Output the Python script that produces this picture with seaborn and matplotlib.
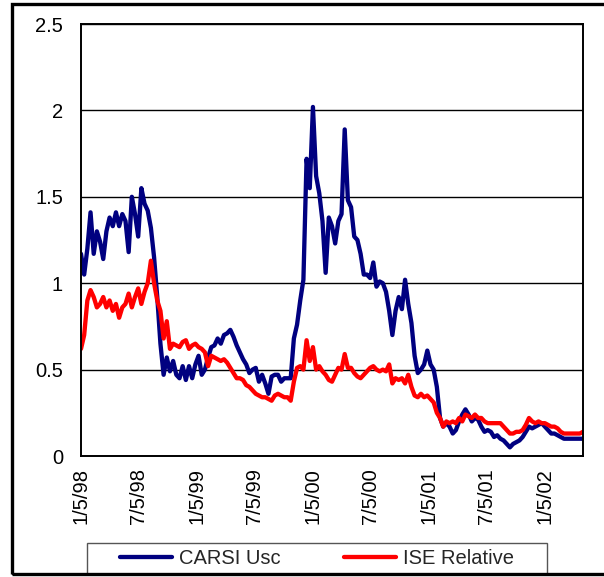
import numpy as np
import pandas as pd
import matplotlib
matplotlib.use("Agg")
import matplotlib.pyplot as plt
import matplotlib.patches as mpatches
import seaborn as sns

# values, one sample every 10 days from 1/5/98
start_date = "1998-01-05"
step_days = 10

carsi_usc = [
    1.17, 1.05, 1.20, 1.41, 1.17, 1.30, 1.24, 1.14, 1.30, 1.38,
    1.33, 1.41, 1.33, 1.40, 1.36, 1.18, 1.50, 1.40, 1.27, 1.55,
    1.46, 1.42, 1.32, 1.15, 0.92, 0.65, 0.47, 0.57, 0.49, 0.55,
    0.47, 0.45, 0.52, 0.44, 0.52, 0.45, 0.53, 0.58, 0.47, 0.50,
    0.57, 0.63, 0.64, 0.68, 0.65, 0.70, 0.71, 0.73, 0.69, 0.64,
    0.60, 0.56, 0.53, 0.48, 0.50, 0.51, 0.43, 0.47, 0.42, 0.36,
    0.46, 0.47, 0.47, 0.43, 0.45, 0.45, 0.45, 0.68, 0.76, 0.90,
    1.02, 1.72, 1.55, 2.02, 1.62, 1.52, 1.36, 1.06, 1.38, 1.33,
    1.23, 1.36, 1.40, 1.89, 1.48, 1.44, 1.27, 1.25, 1.17, 1.05,
    1.05, 1.03, 1.12, 0.98, 1.01, 1.00, 0.95, 0.84, 0.70, 0.84,
    0.92, 0.85, 1.02, 0.88, 0.77, 0.58, 0.48, 0.50, 0.53, 0.61,
    0.53, 0.50, 0.40, 0.22, 0.17, 0.19, 0.17, 0.13, 0.15, 0.20,
    0.24, 0.27, 0.24, 0.20, 0.22, 0.21, 0.17, 0.14, 0.15, 0.14,
    0.11, 0.12, 0.10, 0.09, 0.07, 0.05, 0.07, 0.08, 0.09, 0.11,
    0.14, 0.17, 0.16, 0.17, 0.18, 0.19, 0.17, 0.15, 0.13, 0.13,
    0.12, 0.11, 0.10, 0.10, 0.10, 0.10, 0.10, 0.10, 0.10,
]

ise_relative = [
    0.62, 0.70, 0.90, 0.96, 0.92, 0.86, 0.88, 0.92, 0.86, 0.90,
    0.84, 0.88, 0.80, 0.86, 0.88, 0.94, 0.86, 0.92, 0.97, 0.88,
    0.95, 1.00, 1.13, 1.00, 0.90, 0.84, 0.68, 0.78, 0.62, 0.65,
    0.64, 0.63, 0.66, 0.67, 0.62, 0.64, 0.65, 0.63, 0.62, 0.60,
    0.52, 0.58, 0.57, 0.56, 0.55, 0.56, 0.54, 0.51, 0.48, 0.45,
    0.45, 0.44, 0.41, 0.40, 0.38, 0.36, 0.35, 0.34, 0.34, 0.33,
    0.32, 0.35, 0.36, 0.35, 0.34, 0.34, 0.32, 0.43, 0.51, 0.52,
    0.50, 0.67, 0.55, 0.63, 0.50, 0.52, 0.49, 0.47, 0.44, 0.43,
    0.47, 0.51, 0.50, 0.59, 0.51, 0.51, 0.48, 0.46, 0.45, 0.47,
    0.49, 0.51, 0.52, 0.50, 0.49, 0.50, 0.49, 0.53, 0.42, 0.45,
    0.44, 0.45, 0.42, 0.47, 0.40, 0.35, 0.34, 0.36, 0.34, 0.35,
    0.33, 0.31, 0.25, 0.22, 0.17, 0.20, 0.19, 0.20, 0.19, 0.22,
    0.20, 0.24, 0.23, 0.22, 0.24, 0.22, 0.22, 0.20, 0.19, 0.19,
    0.19, 0.19, 0.19, 0.17, 0.15, 0.13, 0.13, 0.14, 0.14, 0.15,
    0.18, 0.22, 0.20, 0.19, 0.20, 0.19, 0.19, 0.18, 0.17, 0.17,
    0.16, 0.14, 0.13, 0.13, 0.13, 0.13, 0.13, 0.13, 0.14,
]

series_names = ["CARSI Usc", "ISE Relative"]
series_colors = ["#000080", "#FF0000"]

tick_dates = ["1998-01-05", "1998-07-05", "1999-01-05", "1999-07-05", "2000-01-05",
              "2000-07-05", "2001-01-05", "2001-07-05", "2002-01-05"]
tick_labels = ["1/5/98", "7/5/98", "1/5/99", "7/5/99", "1/5/00",
               "7/5/00", "1/5/01", "7/5/01", "1/5/02"]
y_ticks = [0, 0.5, 1, 1.5, 2, 2.5]
y_labels = ["0", "0.5", "1", "1.5", "2", "2.5"]

dates = pd.date_range(start_date, periods=len(carsi_usc), freq=f"{step_days}D")
df = pd.concat([
    pd.DataFrame({"date": dates, "value": carsi_usc, "series": series_names[0]}),
    pd.DataFrame({"date": dates, "value": ise_relative, "series": series_names[1]}),
])

sns.set_style("white")
plt.rcParams["font.family"] = ["Liberation Sans", "DejaVu Sans"]

fig = plt.figure(figsize=(6.04, 5.77), dpi=100)
ax = fig.add_axes([81 / 604, 1 - 456 / 577, (583 - 81) / 604, (456 - 24) / 577])

sns.lineplot(data=df, x="date", y="value", hue="series", palette=series_colors,
             linewidth=3.1, ax=ax, legend=False)

ax.set_xlim(dates[0], dates[-1])
ax.set_ylim(0, 2.5)
ax.set_yticks(y_ticks)
ax.set_yticklabels(y_labels)
ax.set_xticks(pd.to_datetime(tick_dates))
ax.set_xticklabels(tick_labels, rotation=90)
ax.set_xlabel("")
ax.set_ylabel("")
ax.grid(axis="y", color="black", linewidth=1.0)
ax.grid(axis="x", visible=False)
for s in ax.spines.values():
    s.set_color("black")
    s.set_linewidth(1.4)
ax.tick_params(axis="both", which="major", direction="out", length=5, width=1.0,
               color="black", labelsize=14.5, labelcolor="black")
ax.tick_params(axis="y", pad=8)
ax.tick_params(axis="x", pad=4)

# legend box drawn separately, entries centred inside it
fig.patches.append(mpatches.Rectangle((87 / 604, (577 - 574) / 577), (547 - 87) / 604,
                                      (574 - 543) / 577, transform=fig.transFigure,
                                      facecolor="white", edgecolor="#555555",
                                      linewidth=1.0, zorder=5))
handles = [plt.Line2D([], [], color=c, linewidth=3.1) for c in series_colors]
leg = fig.legend(handles, series_names, loc="center",
                 bbox_to_anchor=((87 + 547) / 2 / 604, 1 - 558.5 / 577),
                 ncol=2, frameon=False, fontsize=14.5, handlelength=2.6,
                 handletextpad=0.35, columnspacing=3.1, borderpad=0, borderaxespad=0)
leg.set_zorder(6)

# outer chart frame
fig.patches.append(mpatches.Rectangle((12 / 604, (577 - 573.5) / 577), 1.0, (573.5 - 4) / 577,
                                      transform=fig.transFigure, fill=False,
                                      edgecolor="black", linewidth=2.4, zorder=10))

fig.savefig("out.png", dpi=100)
